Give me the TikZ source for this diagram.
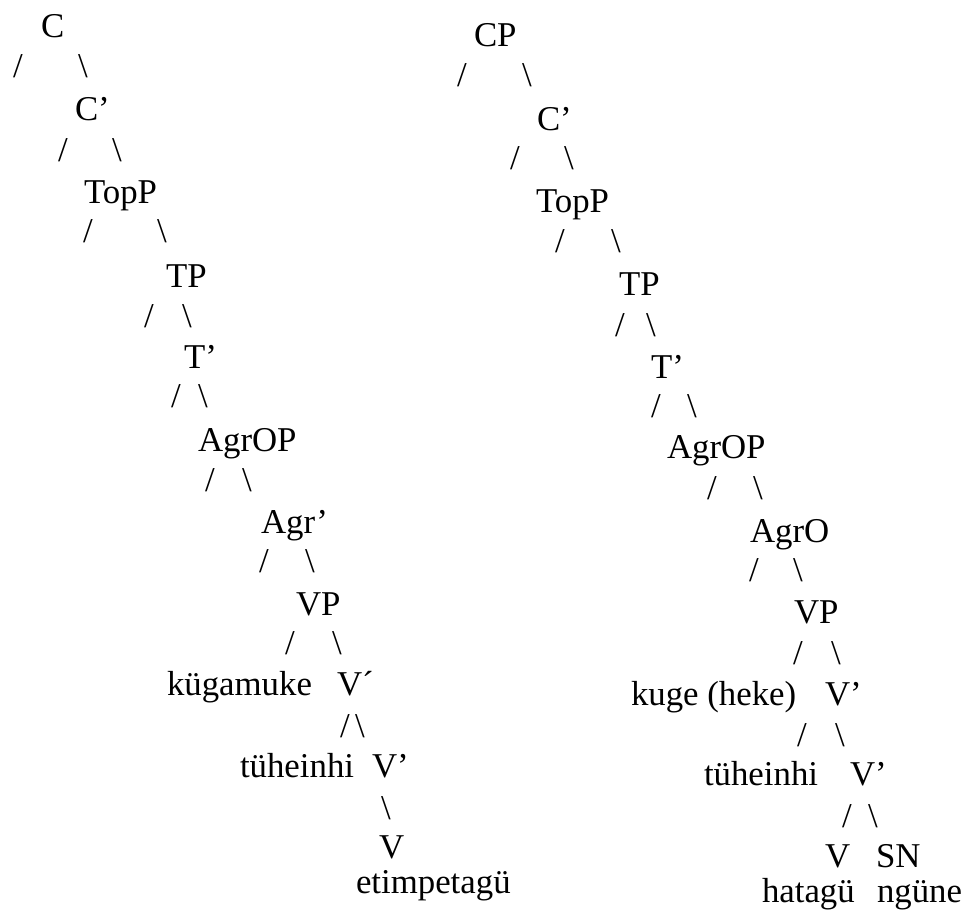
\documentclass[tikz,border=0pt]{standalone}
\usepackage{fontspec}
\setmainfont{Liberation Serif}
\begin{document}
\begin{tikzpicture}[x=1pt,y=-1pt,
  lbl/.style={anchor=base west,inner sep=0pt,outer sep=0pt,font=\fontsize{34.8}{40}\selectfont},
  brk/.style={lbl}]
\useasboundingbox (0,0) rectangle (964,914);
% ---------- left tree ----------
\node[lbl] (lC) at (41,37) {C};
\node[brk] (lC-a) at (13,77) {/};
\node[brk] (lC-b) at (78,77) {\textbackslash};
\node[lbl] (lCb) at (75,120) {C’};
\node[brk] (lCb-a) at (58,161) {/};
\node[brk] (lCb-b) at (112,161) {\textbackslash};
\node[lbl] (lTop) at (84,203) {TopP};
\node[brk] (lTop-a) at (83,242) {/};
\node[brk] (lTop-b) at (157,242) {\textbackslash};
\node[lbl] (lTP) at (166,287) {TP};
\node[brk] (lTP-a) at (144,327) {/};
\node[brk] (lTP-b) at (182,327) {\textbackslash};
\node[lbl] (lTb) at (184,368) {T’};
\node[brk] (lTb-a) at (171,407) {/};
\node[brk] (lTb-b) at (198,407) {\textbackslash};
\node[lbl] (lAgrOP) at (198,451) {AgrOP};
\node[brk] (lAgrOP-a) at (205,491) {/};
\node[brk] (lAgrOP-b) at (242,491) {\textbackslash};
\node[lbl] (lAgrb) at (261,533) {Agr’};
\node[brk] (lAgrb-a) at (259,572) {/};
\node[brk] (lAgrb-b) at (305,572) {\textbackslash};
\node[lbl] (lVP) at (296,615) {VP};
\node[brk] (lVP-a) at (285,654) {/};
\node[brk] (lVP-b) at (332,654) {\textbackslash};
\node[lbl] (lkug) at (167,695) {kügamuke};
\node[lbl] (lVb1) at (337,695) {V´};
\node[brk] (lVb1-a) at (340,737) {/};
\node[brk] (lVb1-b) at (355,737) {\textbackslash};
\node[lbl] (ltuh) at (240,777) {tüheinhi};
\node[lbl] (lVb2) at (372,777) {V’};
\node[brk] (lVb2-b) at (381,819) {\textbackslash};
\node[lbl] (lV) at (379,858) {V};
\node[lbl] (letim) at (356,893) {etimpetagü};
% ---------- right tree ----------
\node[lbl] (rCP) at (474,46) {CP};
\node[brk] (rCP-a) at (457,86) {/};
\node[brk] (rCP-b) at (522,86) {\textbackslash};
\node[lbl] (rCb) at (537,130) {C’};
\node[brk] (rCb-a) at (510,169) {/};
\node[brk] (rCb-b) at (564,169) {\textbackslash};
\node[lbl] (rTop) at (536,212) {TopP};
\node[brk] (rTop-a) at (555,252) {/};
\node[brk] (rTop-b) at (611,252) {\textbackslash};
\node[lbl] (rTP) at (619,295) {TP};
\node[brk] (rTP-a) at (615,336) {/};
\node[brk] (rTP-b) at (646,336) {\textbackslash};
\node[lbl] (rTb) at (651,378) {T’};
\node[brk] (rTb-a) at (651,417) {/};
\node[brk] (rTb-b) at (687,417) {\textbackslash};
\node[lbl] (rAgrOP) at (667,458) {AgrOP};
\node[brk] (rAgrOP-a) at (707,499) {/};
\node[brk] (rAgrOP-b) at (753,499) {\textbackslash};
\node[lbl] (rAgrO) at (750,542) {AgrO};
\node[brk] (rAgrO-a) at (749,581) {/};
\node[brk] (rAgrO-b) at (793,581) {\textbackslash};
\node[lbl] (rVP) at (794,623) {VP};
\node[brk] (rVP-a) at (793,664) {/};
\node[brk] (rVP-b) at (831,664) {\textbackslash};
\node[lbl] (rkug) at (631,705) {kuge (heke)};
\node[lbl] (rVb1) at (825,705) {V’};
\node[brk] (rVb1-a) at (797,746) {/};
\node[brk] (rVb1-b) at (835,746) {\textbackslash};
\node[lbl] (rtuh) at (704,785) {tüheinhi};
\node[lbl] (rVb2) at (850,785) {V’};
\node[brk] (rVb2-a) at (842,827) {/};
\node[brk] (rVb2-b) at (868,827) {\textbackslash};
\node[lbl] (rV) at (825,867) {V};
\node[lbl] (rSN) at (876,867) {SN};
\node[lbl] (rhat) at (762,902) {hatagü};
\node[lbl] (rngu) at (877,902) {ngüne};
\end{tikzpicture}
\end{document}
